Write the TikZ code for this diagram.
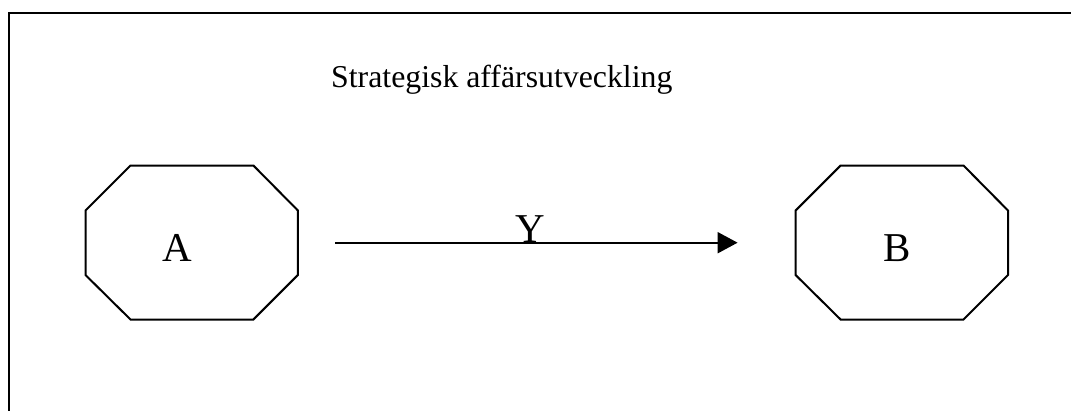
\documentclass[tikz,border=0pt]{standalone}
\usepackage{fontspec}
\setmainfont{Liberation Serif}
\usetikzlibrary{calc,arrows.meta}

\tikzset{
  octobox/.style={draw=none, inner sep=0pt, minimum width=212pt, minimum height=153.6pt},
  octline/.style={draw=black, line width=2pt, line join=miter},
  bigletter/.style={font=\fontsize{41}{41}\selectfont, inner sep=0pt, anchor=base},
  titletext/.style={font=\fontsize{31.8}{32}\selectfont, inner sep=0pt, anchor=base west},
  frameline/.style={draw=black, line width=2.4pt},
  flow/.style={draw=black, line width=2pt, -{Triangle[length=20pt,width=21pt]}}
}

% octagon with 45-degree bevels around a named box node
\newcommand\octagonframe[1]{%
  \draw[octline]
    ($(#1.north west)+(45,0)$) -- ($(#1.north east)+(-44.5,0)$)
    -- ($(#1.north east)+(0,45)$) -- ($(#1.south east)+(0,-44.5)$)
    -- ($(#1.south east)+(-44.5,0)$) -- ($(#1.south west)+(45,0)$)
    -- ($(#1.south west)+(0,-44.5)$) -- ($(#1.north west)+(0,45)$)
    -- cycle;}

\begin{document}
\begin{tikzpicture}[x=1pt, y=-1pt]
  \useasboundingbox (0,0) rectangle (1071,410);

  % outer frame: left and top edges
  \coordinate (fl) at (8.7,412);
  \coordinate (fc) at (8.7,13);
  \coordinate (fr) at (1073,13);
  \draw[frameline] (fl) -- (fc) -- (fr);

  % heading
  \node[titletext] (title) at (331,87) {Strategisk affärsutveckling};

  % the two states
  \node[octobox] (A) at (191.7,242.5) {};
  \node[octobox] (B) at (901.8,242.5) {};
  \octagonframe{A}
  \octagonframe{B}
  \node[bigletter] (la) at (177,261.5) {A};
  \node[bigletter] (lb) at (896.7,261.5) {B};

  % transition
  \draw[flow, shorten <=37.3pt, shorten >=58pt] (A.east |- 0,242.7) -- (B.west |- 0,242.7)
    node[bigletter, pos=0.467] (y) {Y};
\end{tikzpicture}
\end{document}
